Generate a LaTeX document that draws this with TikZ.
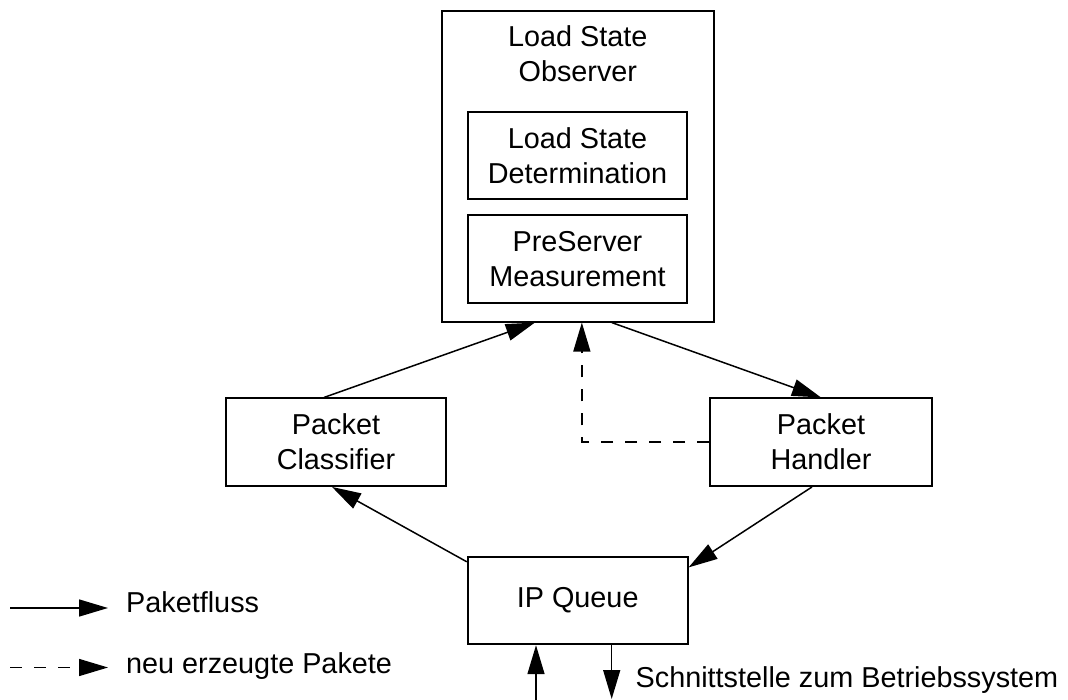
\documentclass[tikz,border=0pt]{standalone}
\usepackage{fontspec}
\setmainfont{Liberation Sans}
\usetikzlibrary{arrows.meta}
\tikzset{
  txt/.style={font=\fontsize{28.8}{35}\selectfont},
  box/.style={txt, draw, line width=1.8pt, rectangle, inner sep=0pt, align=center},
  flow/.style={line width=1.5pt, -{Triangle[length=29pt,width=17pt]}},
  newpkt/.style={flow, dash pattern=on 12pt off 12pt},
  lbl/.style={txt, inner sep=0pt, anchor=base west},
}
\begin{document}
\begin{tikzpicture}[x=1pt,y=-1pt]
\useasboundingbox (0,0) rectangle (1068,700);

% Load State Observer with its two components
\node[box, minimum width=272.3pt, minimum height=311pt] (obs) at (577.85,166.2) {};
\node[txt, align=center, inner sep=0pt] (obstitle) at (577.85,53.7) {Load State\\Observer};
\node[box, minimum width=219.6pt, minimum height=87.6pt] (lsd) at (577.5,155.5) {Load State\\Determination};
\node[box, minimum width=219.6pt, minimum height=87.7pt] (psm) at (577.5,258.85) {PreServer\\Measurement};

% Packet path
\node[box, minimum width=220pt, minimum height=87.7pt] (pc) at (336,442.2) {Packet\\Classifier};
\node[box, minimum width=222pt, minimum height=87.7pt] (ph) at (821,442.2) {Packet\\Handler};
\node[box, minimum width=220pt, minimum height=87.6pt] (ipq) at (577.7,600.5) {IP Queue};

\draw[flow] ([yshift=-6pt]ipq.north west) -- ([xshift=-4pt]pc.south);
\draw[flow] ([xshift=-12pt]pc.north) -- ([xshift=-43pt]obs.south);
\draw[flow] ([xshift=34pt]obs.south) -- (ph.north);
\draw[flow] ([xshift=-9pt]ph.south) -- ([yshift=-11.6pt]ipq.north east);
\draw[newpkt] (ph.west) -| ([xshift=4pt]obs.south);

% Operating system interface
\coordinate (osin) at (536,700);
\coordinate (osout) at (611.7,699);
\draw[flow] (osin) -- (osin |- ipq.south);
\draw[flow] (osout |- ipq.south) -- (osout);
\node[lbl] (ostext) at (635.5,687) {Schnittstelle zum Betriebssystem};

% Legend
\coordinate (l1a) at (10,608);
\coordinate (l1b) at (108,608);
\coordinate (l2a) at (10,667.5);
\coordinate (l2b) at (108,667.5);
\draw[flow] (l1a) -- (l1b);
\draw[newpkt] (l2a) -- (l2b);
\node[lbl] (leg1) at (126,612.7) {Paketfluss};
\node[lbl] (leg2) at (126,673.3) {neu erzeugte Pakete};
\end{tikzpicture}
\end{document}
